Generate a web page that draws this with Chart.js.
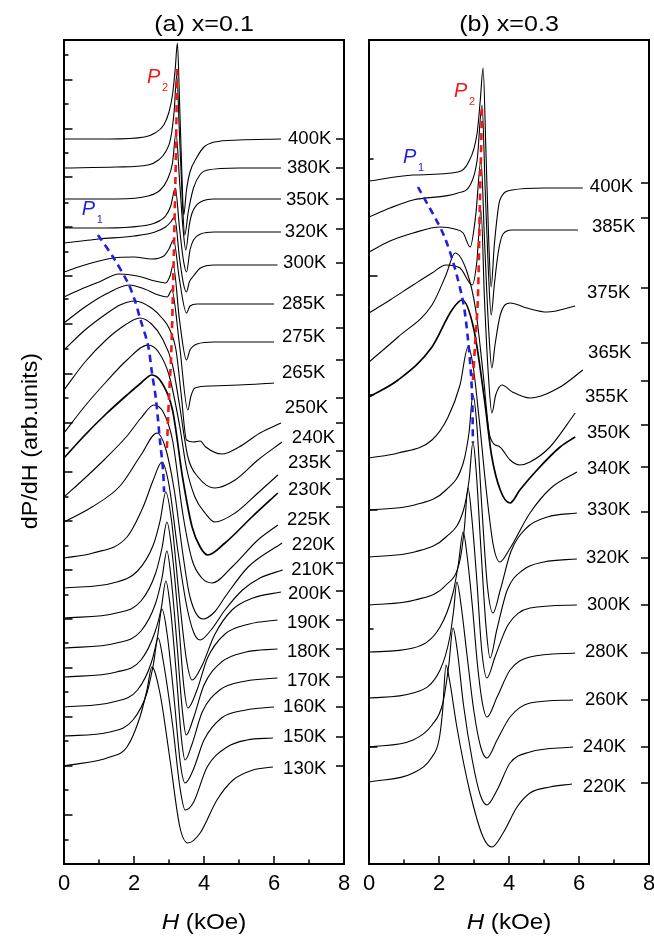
<!DOCTYPE html>
<html>
<head>
<meta charset="utf-8">
<script src="https://cdn.jsdelivr.net/npm/chart.js@4.4.1/dist/chart.umd.min.js"></script>
<style>
  body { margin: 0; background: #fff; width: 654px; height: 936px; overflow: hidden; position: relative; }
  .panel { position: absolute; top: 0; height: 936px; }
  #wa { left: 0; width: 360px; }
  #wb { left: 350px; width: 320px; }
</style>
</head>
<body>
<div class="panel" id="wa"><canvas id="ca"></canvas></div>
<div class="panel" id="wb"><canvas id="cb"></canvas></div>
<script>
// Spectra: [H (kOe), dP/dH (arb. units, offset stacked)]
// panel (a) x=0.1
const a400 = [[0,725],[1.3,725],[2.3,727],[2.6,731],[2.85,739],[3.0,752],[3.1,769],[3.18,796],[3.24,821],[3.3,764],[3.36,699],[3.42,649],[3.5,674],[3.6,692],[3.8,707],[4.0,717],[4.3,722],[5.0,724],[6.2,725]];
const a380 = [[0,696],[1.5,697],[2.4,699],[2.7,704],[2.9,712],[3.05,726],[3.15,754],[3.22,789],[3.3,729],[3.38,664],[3.45,629],[3.55,652],[3.7,676],[3.9,690],[4.1,694],[5.0,696],[6.2,696]];
const a350 = [[0,665],[1.5,665],[2.4,668],[2.75,674],[2.95,684],[3.1,701],[3.2,731],[3.3,684],[3.4,636],[3.48,614],[3.58,639],[3.66,651],[3.9,662],[4.3,665],[6.2,665]];
const a320 = [[0,636],[1.2,636],[2.2,638],[2.6,641],[2.9,648],[3.05,658],[3.18,676],[3.3,636],[3.42,602],[3.5,592],[3.6,614],[3.7,624],[3.9,630],[4.3,632],[6.2,632]];
const a300 = [[0,621],[0.5,623],[1.0,625],[2.0,628],[2.6,632],[2.9,637],[3.05,642],[3.16,647],[3.3,606],[3.42,579],[3.5,572],[3.58,582],[3.7,588],[3.9,596],[4.3,599],[6.1,599]];
const a285 = [[0,592],[0.5,598],[1.0,603],[1.4,606],[2.0,607],[2.5,605],[2.85,608],[3.0,615],[3.13,624],[3.3,584],[3.5,551],[3.6,558],[3.8,560],[6.0,560]];
const a275 = [[0,567],[0.5,575],[1.0,582],[1.57,590],[2.1,588],[2.6,583],[2.9,581],[3.03,588],[3.12,599],[3.3,544],[3.5,504],[3.6,514],[3.8,520],[4.3,522],[6.0,522]];
const a265 = [[0,541],[0.6,557],[1.2,570],[1.86,579],[2.3,575],[2.7,569],[2.95,567],[3.08,574],[3.3,519],[3.54,454],[3.62,467],[3.74,476],[4.2,478],[5.0,479],[6.0,481]];
const a250 = [[0,514],[0.6,534],[1.2,550],[1.6,559],[2.03,563],[2.5,556],[2.8,546],[3.0,536],[3.2,514],[3.35,469],[3.5,424],[3.7,422],[3.89,423],[4.05,417],[4.51,410],[5.0,417],[5.6,431],[6.2,441]];
const a240 = [[0,474],[0.6,502],[1.2,524],[1.7,538],[2.17,546],[2.5,540],[2.8,526],[3.1,499],[3.3,459],[3.54,407],[3.83,387],[4.31,376],[4.89,384],[5.54,404],[6.23,422]];
const a235 = [[0,431],[0.6,458],[1.2,482],[1.8,504],[2.4,519],[2.7,512],[3.0,489],[3.3,439],[3.5,396],[3.74,367],[4.03,351],[4.31,342],[4.89,351],[5.54,371],[6.11,389]];
const a230 = [[0,406],[0.6,429],[1.2,450],[1.8,469],[2.2,481],[2.51,489],[2.8,481],[3.1,454],[3.4,384],[3.66,337],[3.89,317],[4.11,309],[4.6,321],[5.37,347],[6.11,371]];
const a225 = [[0,367],[0.6,386],[1.2,406],[1.8,428],[2.2,446],[2.57,459],[2.85,451],[3.1,424],[3.4,349],[3.66,304],[3.94,286],[4.23,281],[4.8,297],[5.54,324],[6.11,339]];
const a220 = [[0,342],[0.8,357],[1.6,378],[2.2,409],[2.66,431],[2.9,416],[3.15,374],[3.4,309],[3.6,267],[3.97,245],[4.3,252],[4.6,267],[5.26,297],[6.23,321]];
const a210 = [[0,306],[0.83,311],[1.8,327],[2.26,357],[2.55,384],[2.8,402],[3.0,379],[3.25,314],[3.5,259],[3.7,232],[3.89,224],[4.2,234],[4.6,254],[5.1,274],[5.6,286],[6.25,294]];
const a200 = [[0,276],[1.4,281],[2.1,293],[2.55,319],[2.75,344],[2.91,372],[3.07,344],[3.3,264],[3.5,204],[3.66,184],[3.95,199],[4.3,229],[4.8,254],[5.4,266],[6.2,272]];
const a190 = [[0,246],[1.5,251],[2.2,263],[2.62,291],[2.8,316],[2.94,342],[3.08,314],[3.27,244],[3.42,179],[3.54,156],[3.8,174],[4.1,206],[4.6,230],[5.3,240],[6.1,244]];
const a180 = [[0,216],[1.5,221],[2.2,233],[2.62,261],[2.8,286],[2.94,313],[3.06,286],[3.23,219],[3.38,154],[3.49,129],[3.7,146],[4.0,179],[4.5,202],[5.2,212],[6.1,215]];
const a170 = [[0,187],[1.5,192],[2.2,204],[2.6,232],[2.78,256],[2.91,283],[3.03,259],[3.2,194],[3.36,124],[3.46,104],[3.65,119],[3.95,152],[4.45,174],[5.2,183],[6.1,186]];
const a160 = [[0,157],[1.4,162],[2.1,174],[2.5,202],[2.67,227],[2.8,255],[2.95,229],[3.15,164],[3.33,99],[3.46,81],[3.69,94],[4.0,124],[4.5,146],[5.2,154],[6.0,157]];
const a150 = [[0,128],[1.31,132],[1.97,144],[2.37,171],[2.55,199],[2.69,226],[2.83,204],[3.11,137],[3.31,77],[3.46,54],[3.69,61],[4.09,97],[4.66,117],[5.23,124],[5.97,126]];
const a130 = [[0,98],[1.31,107],[1.8,117],[2.17,147],[2.37,174],[2.51,197],[2.74,171],[3.03,104],[3.31,37],[3.54,21],[3.89,31],[4.37,64],[4.83,84],[5.4,94],[5.97,97]];
const aP1line = [[0.97,629],[1.4,607],[1.83,581],[2.03,563],[2.17,546],[2.4,519],[2.51,492],[2.63,464],[2.74,424],[2.83,394],[2.86,372]];
const aP2line = [[2.94,416],[3.0,467],[3.06,507],[3.11,567],[3.14,614],[3.2,714],[3.23,796]];
const aTemps = ['400K','380K','350K','320K','300K','285K','275K','265K','250K','240K','235K','230K','225K','220K','210K','200K','190K','180K','170K','160K','150K','130K'];
const aLabelH = [6.40,6.37,6.34,6.31,6.26,6.23,6.23,6.23,6.31,6.51,6.40,6.40,6.37,6.51,6.49,6.40,6.37,6.37,6.37,6.26,6.26,6.26];
const aLabelV = [725,696,664,632,601,560,527,491,456,426,401,374,344,319,294,270,241,212,183,157,127,95];
const aRightTicks = [725,696,665,635,601,569,536,504,466,441,413,385,357,301,273,244,215,187,157,127,98];
const aLeftTicks = [809,784,760,735,711,687,661,637,612,588,565,540,515,490,466,441,416,392,367,343,318,294,269,245,221,196,172,147,123,98,74,49,24];

// panel (b) x=0.3
const b400 = [[0,683],[1.26,689],[2.54,692],[2.83,701],[3.09,731],[3.18,764],[3.26,796],[3.34,714],[3.42,624],[3.49,577],[3.58,619],[3.74,664],[4.09,674],[5.0,676],[6.11,676]];
const b385 = [[0,647],[0.6,656],[1.26,664],[2.54,671],[2.89,679],[3.09,704],[3.23,759],[3.32,674],[3.41,594],[3.49,549],[3.58,579],[3.69,611],[3.83,630],[4.09,634],[5.97,634]];
const b375 = [[0,612],[0.6,623],[1.26,631],[2.03,637],[2.45,635],[2.69,631],[2.89,617],[3.05,649],[3.2,704],[3.3,624],[3.42,534],[3.51,496],[3.6,519],[3.75,549],[4.03,561],[4.51,556],[5.09,552],[5.89,558]];
const b365 = [[0,551],[0.6,564],[1.26,579],[1.8,591],[2.2,599],[2.6,596],[2.95,579],[3.08,602],[3.2,654],[3.3,564],[3.42,484],[3.51,451],[3.62,469],[3.8,479],[4.1,472],[4.6,466],[5.46,477],[6.11,494]];
const b355 = [[0,502],[0.83,527],[1.8,559],[2.2,589],[2.46,611],[2.8,592],[3.05,554],[3.25,494],[3.46,427],[3.74,417],[4.03,404],[4.31,399],[4.6,402],[5.17,417],[5.89,451]];
const b350 = [[0,467],[0.83,484],[1.8,517],[2.37,554],[2.66,564],[3.0,534],[3.3,464],[3.5,409],[3.75,374],[4.03,361],[4.31,374],[4.8,394],[5.46,417],[5.89,427]];
const b340 = [[0,406],[0.83,411],[1.8,424],[2.26,447],[2.6,479],[2.83,517],[2.97,499],[3.15,444],[3.35,374],[3.55,319],[3.74,302],[4.0,314],[4.6,351],[5.2,376],[5.94,392]];
const b330 = [[0,354],[1.3,359],[2.2,374],[2.7,402],[2.86,432],[2.97,469],[3.07,444],[3.22,359],[3.38,279],[3.54,251],[3.75,274],[4.05,312],[4.5,336],[5.1,347],[5.94,351]];
const b320 = [[0,307],[1.3,312],[2.2,327],[2.7,354],[2.86,384],[2.97,422],[3.06,394],[3.2,314],[3.34,239],[3.46,206],[3.65,234],[3.95,274],[4.4,294],[5.0,302],[5.94,305]];
const b300 = [[0,259],[1.31,264],[2.2,279],[2.6,304],[2.72,334],[2.83,376],[2.93,349],[3.08,284],[3.22,214],[3.37,186],[3.6,207],[3.97,239],[4.6,256],[5.94,259]];
const b280 = [[0,212],[1.26,216],[2.03,237],[2.4,271],[2.55,299],[2.69,332],[2.8,309],[2.95,259],[3.1,199],[3.25,159],[3.37,147],[3.66,167],[4.03,194],[4.6,207],[5.89,211]];
const b260 = [[0,166],[1.26,171],[2.03,194],[2.31,227],[2.42,254],[2.51,282],[2.63,259],[2.8,209],[3.0,152],[3.2,116],[3.37,106],[3.66,124],[4.03,147],[4.6,161],[5.83,164]];
const b240 = [[0,117],[1.26,124],[1.8,139],[2.11,161],[2.28,199],[2.4,236],[2.52,214],[2.7,159],[2.95,104],[3.18,69],[3.37,59],[3.66,74],[4.03,101],[4.6,112],[5.83,117]];
const b220 = [[0,82],[1.26,91],[1.8,107],[2.0,124],[2.1,152],[2.2,199],[2.3,184],[2.51,137],[2.89,71],[3.26,27],[3.51,17],[3.83,31],[4.23,57],[4.6,71],[5.17,77],[5.8,80]];
const bP1line = [[1.4,677],[2.17,626],[2.66,567],[2.83,524],[2.94,474],[2.97,421]];
const bP2line = [[2.97,484],[3.03,519],[3.11,564],[3.17,664],[3.23,757]];
const bTemps = ['400K','385K','375K','365K','355K','350K','340K','330K','320K','300K','280K','260K','240K','220K'];
const bLabelH = [6.31,6.37,6.23,6.26,6.17,6.23,6.23,6.23,6.20,6.23,6.17,6.17,6.11,6.11];
const bLabelV = [677,637,571,511,467,431,395,354,306,259,212,164,117,77];
const bRightTicks = [681,646,576,521,483,439,397,352,306,259,211,164,117,81];
const bLeftTicks = [705,588,469,354,235,117];

const FONT = 'Arial, "Liberation Sans", sans-serif';

function curve(data, noisy) {
  return {
    data: data,
    borderColor: '#000',
    borderWidth: noisy ? 1.7 : 1.1,
    pointRadius: 0,
    cubicInterpolationMode: 'monotone',
    fill: false,
    order: 1
  };
}

function dashed(data, color) {
  return {
    data: data,
    borderColor: color,
    borderWidth: 2.6,
    borderDash: [7, 5],
    pointRadius: 0,
    tension: 0.3,
    fill: false,
    order: 0
  };
}

function drawP(ctx, px, py, color, sub) {
  ctx.fillStyle = color;
  ctx.font = 'italic 20px ' + FONT;
  ctx.textBaseline = 'alphabetic';
  ctx.textAlign = 'left';
  ctx.fillText('P', px, py);
  ctx.font = '11px ' + FONT;
  ctx.fillText(sub, px + 15, py + 8);
}

// text drawn a little wider, like the stretched lettering of the original figure
function wideText(ctx, text, px, py, stretch) {
  ctx.save();
  ctx.translate(px, py);
  ctx.scale(stretch, 1);
  ctx.fillText(text, 0, 0);
  ctx.restore();
}

// frame, inward ticks, temperature labels and titles
const decorations = {
  id: 'decorations',
  afterDraw(chart, args, opts) {
    const { ctx, chartArea: ca, scales: { x, y } } = chart;
    ctx.save();
    ctx.strokeStyle = '#000';
    ctx.lineWidth = 2;
    ctx.strokeRect(ca.left, ca.top, ca.right - ca.left, ca.bottom - ca.top);

    ctx.lineWidth = 1.5;
    ctx.beginPath();
    x.ticks.forEach((t) => {
      const px = x.getPixelForValue(t.value);
      const len = t.value % 2 === 0 ? 8 : 4.5;
      ctx.moveTo(px, ca.bottom);
      ctx.lineTo(px, ca.bottom - len);
    });
    opts.leftTicks.forEach((v, i) => {
      const py = y.getPixelForValue(v);
      const len = i % 2 === 1 ? 8.5 : 4.5;
      ctx.moveTo(ca.left, py);
      ctx.lineTo(ca.left + len, py);
    });
    opts.rightTicks.forEach((v) => {
      const py = y.getPixelForValue(v);
      ctx.moveTo(ca.right, py);
      ctx.lineTo(ca.right - 8, py);
    });
    ctx.stroke();

    ctx.fillStyle = '#000';
    ctx.font = '17.5px ' + FONT;
    ctx.textBaseline = 'middle';
    ctx.textAlign = 'left';
    opts.temps.forEach((t, i) => {
      wideText(ctx, t, x.getPixelForValue(opts.labelH[i]), y.getPixelForValue(opts.labelV[i]), 1.06);
    });

    drawP(ctx, x.getPixelForValue(opts.p1[0]), y.getPixelForValue(opts.p1[1]), '#1f1fe0', '1');
    drawP(ctx, x.getPixelForValue(opts.p2[0]), y.getPixelForValue(opts.p2[1]), '#f01818', '2');

    const cx = (ca.left + ca.right) / 2;
    ctx.fillStyle = '#000';
    ctx.textAlign = 'left';
    ctx.textBaseline = 'middle';
    ctx.font = '22px ' + FONT;
    const tw = ctx.measureText(opts.title).width * 1.14;
    wideText(ctx, opts.title, cx - tw / 2, 25, 1.14);

    ctx.textBaseline = 'alphabetic';
    ctx.font = 'italic 22px ' + FONT;
    const wH = ctx.measureText('H').width;
    ctx.font = '22px ' + FONT;
    const wRest = ctx.measureText(' (kOe)').width;
    const x0 = cx - (wH + wRest) * 1.1 / 2;
    ctx.font = 'italic 22px ' + FONT;
    wideText(ctx, 'H', x0, 929, 1.1);
    ctx.font = '22px ' + FONT;
    wideText(ctx, ' (kOe)', x0 + wH * 1.1, 929, 1.1);

    if (opts.yTitle) {
      ctx.translate(31, 441);
      ctx.rotate(-Math.PI / 2);
      ctx.textAlign = 'center';
      ctx.textBaseline = 'middle';
      ctx.font = '22px ' + FONT;
      ctx.scale(1.06, 1);
      ctx.fillText('dP/dH (arb.units)', 0, 0);
    }
    ctx.restore();
  }
};

function makePanel(id, curves, noisy, p1line, p2line, deco, padLeft, padRight) {
  const datasets = curves.map((c, i) => curve(c, noisy.includes(i)));
  datasets.push(dashed(p1line, '#1f1fe0'));
  datasets.push(dashed(p2line, '#f01818'));
  return new Chart(document.getElementById(id), {
    type: 'line',
    data: { datasets: datasets },
    plugins: [decorations],
    options: {
      responsive: true,
      maintainAspectRatio: false,
      animation: false,
      events: [],
      layout: { padding: { left: padLeft, right: padRight, top: 40, bottom: 0 } },
      scales: {
        x: {
          type: 'linear',
          min: 0,
          max: 8,
          ticks: {
            stepSize: 1,
            padding: 7,
            color: '#000',
            font: { size: 22, family: FONT },
            maxRotation: 0,
            callback: (v) => (v % 2 === 0 ? String(v) : '')
          },
          grid: { display: false, drawTicks: false },
          border: { display: false },
          afterFit: (s) => { s.height = 72; }
        },
        y: { type: 'linear', min: 0, max: 824, display: false }
      },
      plugins: {
        legend: { display: false },
        tooltip: { enabled: false },
        decorations: deco
      }
    }
  });
}

makePanel('ca',
  [a400, a380, a350, a320, a300, a285, a275, a265, a250, a240, a235, a230, a225, a220, a210, a200, a190, a180, a170, a160, a150, a130],
  [11], aP1line, aP2line,
  { title: '(a) x=0.1', temps: aTemps, labelH: aLabelH, labelV: aLabelV, rightTicks: aRightTicks, leftTicks: aLeftTicks, p1: [0.51, 649], p2: [2.37, 781], yTitle: true },
  64, 16);

makePanel('cb',
  [b400, b385, b375, b365, b355, b350, b340, b330, b320, b300, b280, b260, b240, b220],
  [5], bP1line, bP2line,
  { title: '(b) x=0.3', temps: bTemps, labelH: bLabelH, labelV: bLabelV, rightTicks: bRightTicks, leftTicks: bLeftTicks, p1: [0.97, 701], p2: [2.43, 767], yTitle: false },
  19, 21);
</script>
</body>
</html>
